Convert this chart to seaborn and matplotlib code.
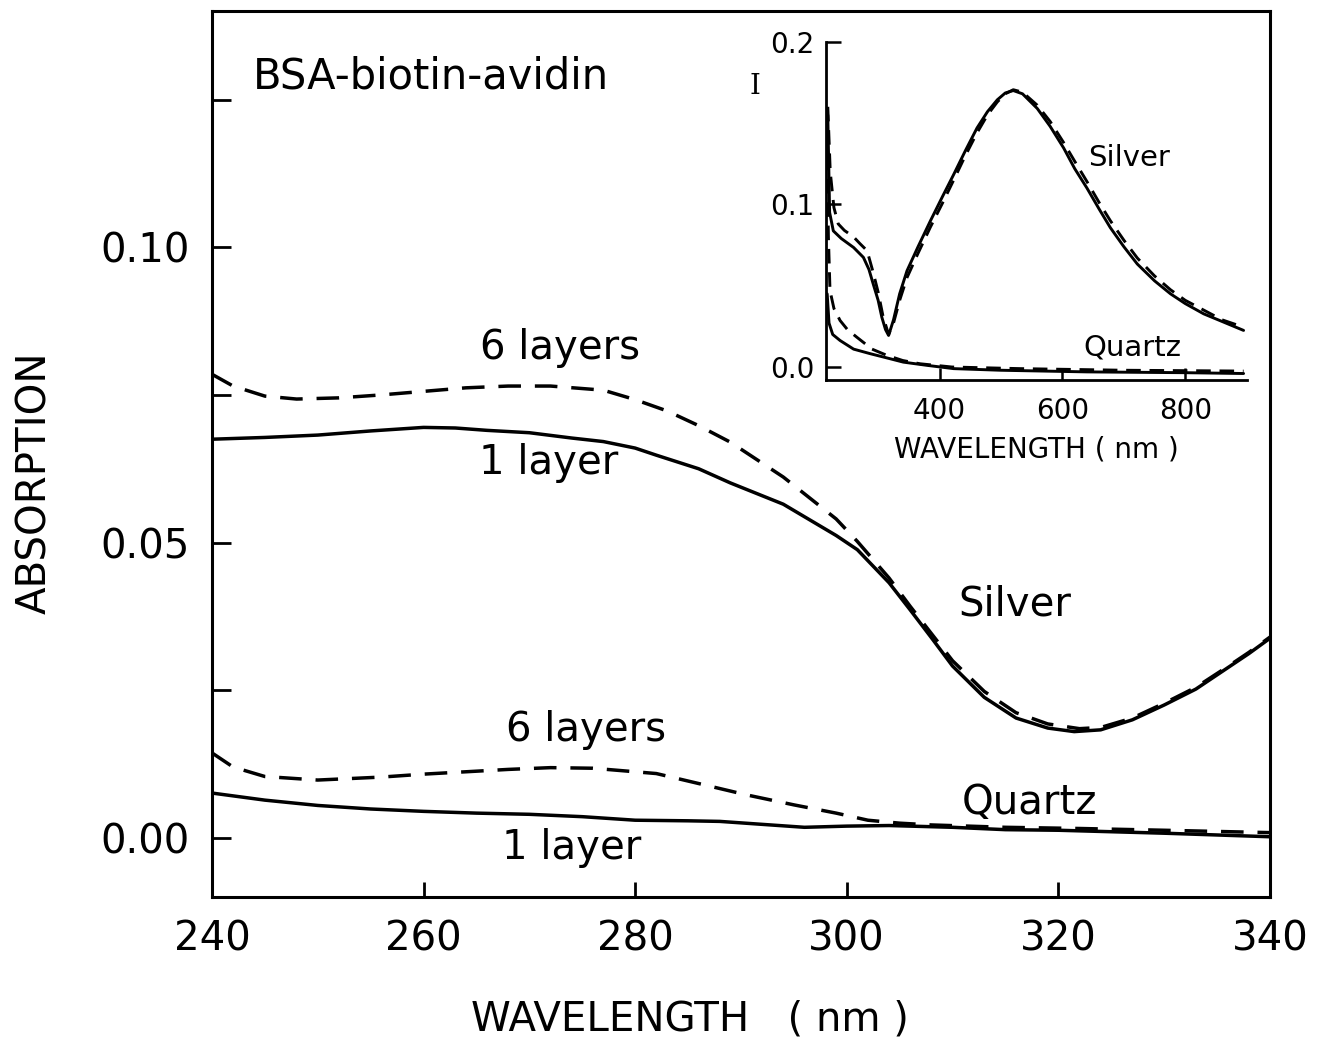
import numpy as np
import pandas as pd
import seaborn as sns
import matplotlib
matplotlib.use("Agg")
import matplotlib.pyplot as plt

# ---- main panel: UV absorption of BSA-biotin-avidin films ----
silver_1_wl = [240, 245, 250, 255, 260, 263, 266, 270, 274, 277, 280, 282, 286, 289, 294,
               299, 301, 304, 306, 308, 310, 313, 316, 319, 321.5, 324, 327, 330, 333, 336,
               338, 340]
silver_1_abs = [0.0675, 0.0678, 0.0682, 0.0689, 0.0695, 0.0694, 0.0690, 0.0686, 0.0677,
                0.0671, 0.0660, 0.0648, 0.0625, 0.0601, 0.0565, 0.0512, 0.0488, 0.0432,
                0.0386, 0.0339, 0.0291, 0.0238, 0.0203, 0.0186, 0.0180, 0.0183, 0.0200,
                0.0225, 0.0252, 0.0288, 0.0312, 0.0338]

silver_6_wl = [240, 242, 245, 248, 252, 256, 260, 264, 268, 272, 277, 280, 283, 286, 289,
               294, 299, 301, 304, 306, 308, 310, 313, 316, 319, 322, 324, 327, 330, 333,
               336, 338, 340]
silver_6_abs = [0.0785, 0.0765, 0.0748, 0.0743, 0.0745, 0.0750, 0.0756, 0.0762, 0.0765,
                0.0765, 0.0758, 0.0742, 0.0723, 0.0698, 0.0670, 0.0611, 0.0540, 0.0502,
                0.0440, 0.0392, 0.0346, 0.0300, 0.0248, 0.0212, 0.0193, 0.0185, 0.0187,
                0.0203, 0.0228, 0.0255, 0.0290, 0.0314, 0.0340]

quartz_1_wl = [240, 245, 250, 255, 260, 265, 270, 275, 280, 285, 288, 292, 296, 300, 304,
               310, 315, 320, 330, 340]
quartz_1_abs = [0.0076, 0.0064, 0.0055, 0.0049, 0.0045, 0.0042, 0.0040, 0.0036, 0.0030,
                0.0029, 0.0028, 0.0023, 0.0018, 0.0020, 0.0021, 0.0018, 0.0014, 0.0013,
                0.0008, 0.0002]

quartz_6_wl = [240, 242, 245, 250, 256, 260, 264, 268, 272, 276, 282, 286.5, 290.5, 295,
               299, 302, 305, 308, 315, 322, 330, 340]
quartz_6_abs = [0.0144, 0.0120, 0.0104, 0.0098, 0.0103, 0.0108, 0.0112, 0.0116, 0.0119,
                0.0118, 0.0109, 0.0090, 0.0073, 0.0056, 0.0042, 0.0030, 0.0025, 0.0022,
                0.0018, 0.0016, 0.0013, 0.0009]

# ---- inset: full visible spectrum ----
in_silver_1_wl = [218, 221, 227, 240, 260, 276, 285, 292, 300, 306, 312, 317, 325, 335, 347,
                  365, 385, 405, 423, 442, 461, 478, 494, 507, 520, 535, 559, 580, 602, 620,
                  640, 660, 678, 700, 722, 750, 776, 800, 830, 860, 895]
in_silver_1 = [0.155, 0.095, 0.0837, 0.0790, 0.0735, 0.0674, 0.060, 0.051, 0.041, 0.0306,
               0.023, 0.0194, 0.029, 0.045, 0.0592, 0.074, 0.0898, 0.105, 0.1184, 0.133,
               0.147, 0.157, 0.1643, 0.1685, 0.170, 0.168, 0.159, 0.148, 0.1347, 0.122,
               0.110, 0.097, 0.0857, 0.074, 0.0633, 0.053, 0.045, 0.039, 0.0327, 0.028, 0.0225]

in_silver_6_wl = [218, 222, 228, 235, 245, 260, 270, 282, 292, 300, 308, 317, 325, 335, 347,
                  365, 385, 405, 423, 442, 461, 478, 494, 507, 520, 535, 559, 580, 602, 620,
                  640, 660, 678, 700, 722, 750, 776, 800, 830, 860, 895]
in_silver_6 = [0.160, 0.120, 0.098, 0.088, 0.084, 0.080, 0.076, 0.0715, 0.058, 0.046, 0.031,
               0.020, 0.027, 0.041, 0.055, 0.070, 0.086, 0.101, 0.115, 0.130, 0.144, 0.155,
               0.163, 0.168, 0.1705, 0.169, 0.161, 0.151, 0.138, 0.1265, 0.114, 0.101, 0.090,
               0.078, 0.067, 0.056, 0.0475, 0.041, 0.035, 0.029, 0.0245]

in_quartz_1_wl = [217, 220, 226, 238, 260, 287, 310, 341, 380, 423, 500, 640, 800, 895]
in_quartz_1 = [0.045, 0.027, 0.020, 0.0163, 0.011, 0.0082, 0.006, 0.003, 0.001, -0.001,
               -0.002, -0.003, -0.0035, -0.004]

in_quartz_6_wl = [217, 219, 221.6, 228, 238, 250, 265, 290, 314, 340, 368, 420, 531, 700, 895]
in_quartz_6 = [0.130, 0.080, 0.047, 0.036, 0.0286, 0.023, 0.0184, 0.011, 0.0072, 0.004,
               0.002, 0.000, -0.001, -0.002, -0.0025]

sns.set_theme(style="white")
plt.rcParams["font.family"] = ["DejaVu Sans"]
plt.rcParams["axes.linewidth"] = 2.2

fig = plt.figure(figsize=(13.23, 10.44), dpi=100)
ax = fig.add_axes([0.1602, 0.1408, 0.7997, 0.8487])

main_dash = (0, (6.5, 4))
for wl, val, ls in [(silver_1_wl, silver_1_abs, "-"), (silver_6_wl, silver_6_abs, main_dash),
                    (quartz_1_wl, quartz_1_abs, "-"), (quartz_6_wl, quartz_6_abs, main_dash)]:
    df = pd.DataFrame({"wl": wl, "abs": val})
    sns.lineplot(data=df, x="wl", y="abs", ax=ax, color="black", lw=2.5,
                 linestyle=ls, estimator=None, sort=False)

ax.set_xlim(240, 340)
ax.set_ylim(-0.01, 0.14)
ax.set_xticks([240, 260, 280, 300, 320, 340])
ax.set_yticks([0.0, 0.05, 0.10])
ax.set_yticks([0.025, 0.075, 0.125], minor=True)
ax.set_yticklabels(["0.00", "0.05", "0.10"])
ax.tick_params(axis="both", which="both", direction="in", width=2.0, labelsize=29,
               colors="black", left=True, bottom=True)
ax.tick_params(axis="y", which="both", length=14, pad=16)
ax.tick_params(axis="x", which="major", length=11, pad=16)
for s in ax.spines.values():
    s.set_color("black")
    s.set_linewidth(2.2)
ax.set_xlabel("")
ax.set_ylabel("")

fig.text(0.5215, 0.023, "WAVELENGTH   ( nm )", fontsize=29, color="black",
         ha="center", va="center")
fig.text(0.0265, 0.538, "ABSORPTION", fontsize=29, color="black", rotation=90,
         ha="center", va="center")

txt = dict(fontsize=29, color="black", ha="center", va="center")
ax.text(243.9, 0.1289, "BSA-biotin-avidin", fontsize=30, color="black", ha="left", va="center")
ax.text(272.9, 0.0829, "6 layers", **txt)
ax.text(271.8, 0.0635, "1 layer", **txt)
ax.text(315.9, 0.0395, "Silver", **txt)
ax.text(275.4, 0.0182, "6 layers", **txt)
ax.text(317.3, 0.0059, "Quartz", **txt)
ax.text(274.0, -0.0017, "1 layer", **txt)

# ---- inset ----
axi = fig.add_axes([0.6243, 0.6360, 0.3180, 0.3240])
axi.patch.set_alpha(0)
in_dash = (0, (5, 3))
for wl, val, ls in [(in_silver_1_wl, in_silver_1, "-"), (in_silver_6_wl, in_silver_6, in_dash),
                    (in_quartz_1_wl, in_quartz_1, "-"), (in_quartz_6_wl, in_quartz_6, in_dash)]:
    df = pd.DataFrame({"wl": wl, "I": val})
    sns.lineplot(data=df, x="wl", y="I", ax=axi, color="black", lw=2.1,
                 linestyle=ls, estimator=None, sort=False)

axi.set_xlim(215, 900)
axi.set_ylim(-0.008, 0.2)
axi.set_xticks([400, 600, 800])
axi.set_yticks([0.0, 0.1, 0.2])
axi.set_yticklabels(["0.0", "0.1", "0.2"])
axi.tick_params(axis="both", direction="in", width=1.8, labelsize=20, colors="black",
                left=True, bottom=True)
axi.tick_params(axis="y", length=11, pad=8)
axi.tick_params(axis="x", length=9, pad=12)
for side in ["top", "right"]:
    axi.spines[side].set_visible(False)
for side in ["left", "bottom"]:
    axi.spines[side].set_color("black")
    axi.spines[side].set_linewidth(2.0)
axi.set_xlabel("WAVELENGTH ( nm )", fontsize=20, color="black", labelpad=8)
axi.set_ylabel("")

itxt = dict(fontsize=21, color="black", ha="center", va="center")
axi.text(709, 0.1286, "Silver", **itxt)
axi.text(714, 0.0122, "Quartz", **itxt)
axi.text(100, 0.1725, "I", fontsize=20, family="DejaVu Serif", color="black",
         ha="center", va="center", clip_on=False)

fig.savefig("out.png", dpi=100)
